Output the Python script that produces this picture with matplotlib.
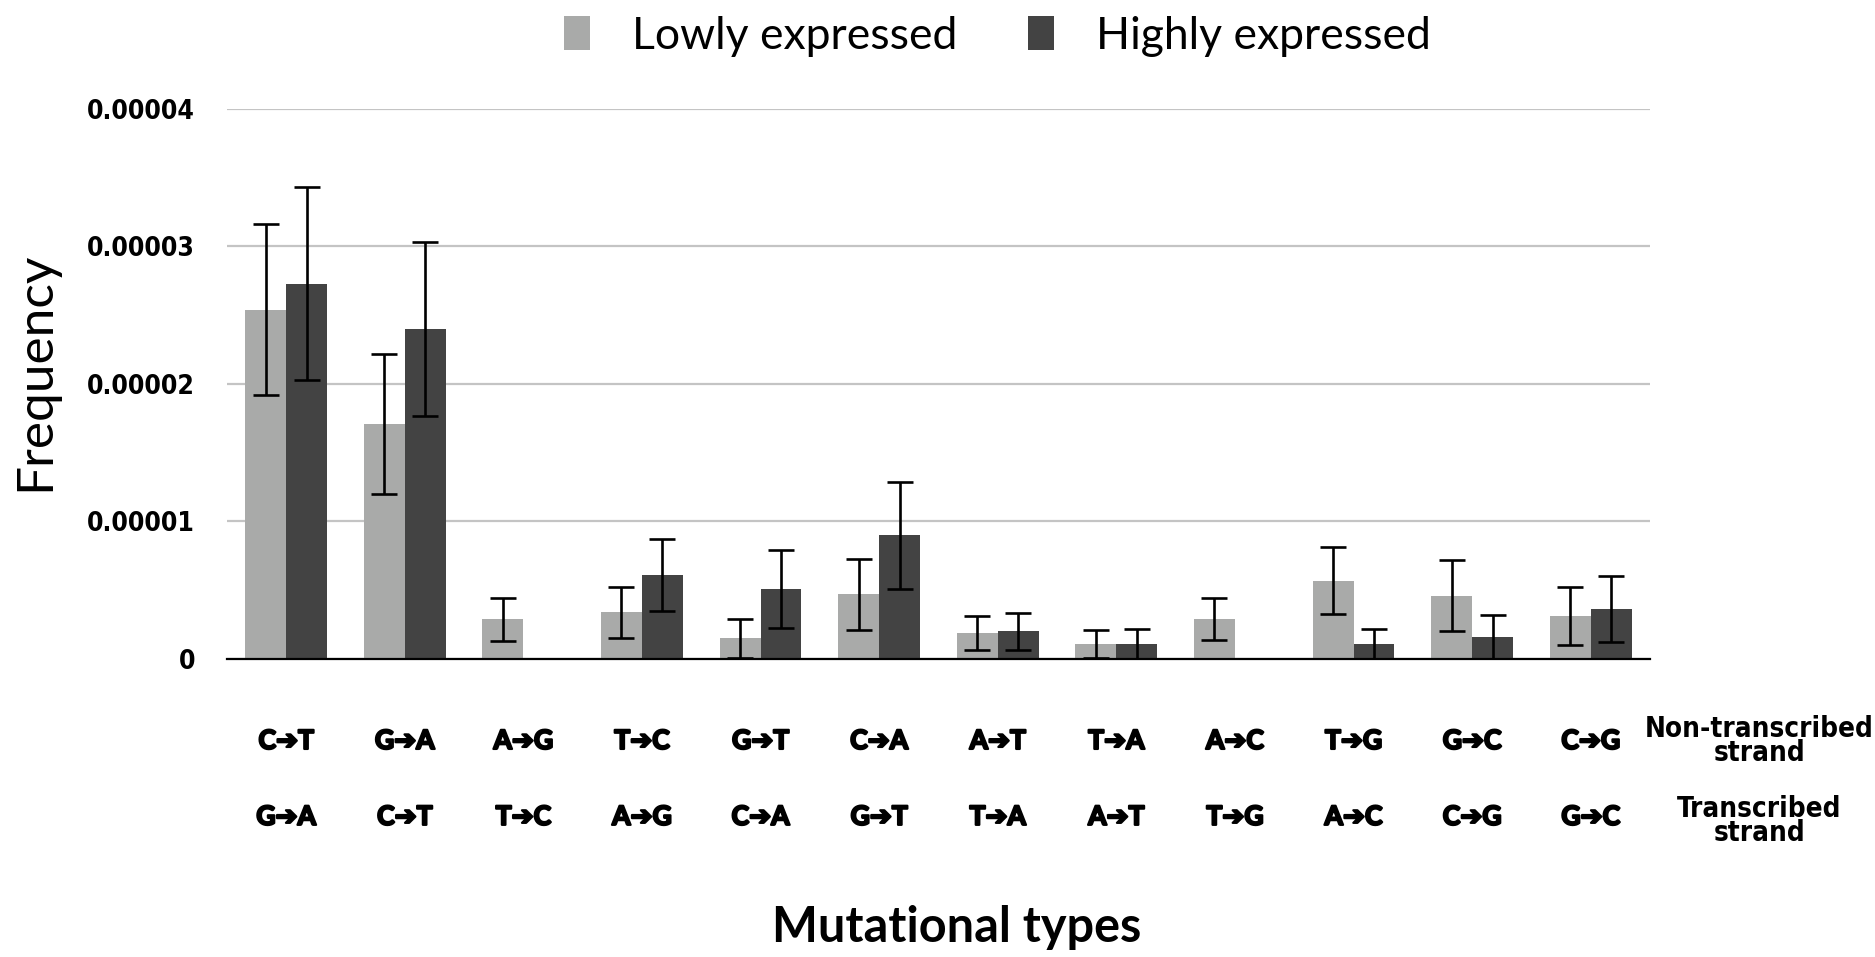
import matplotlib
matplotlib.use("Agg")
import matplotlib.pyplot as plt
import matplotlib.patheffects as pe
from matplotlib.patches import Patch
import numpy as np

# mutation types, read on each strand
non_transcribed = ["C➔T", "G➔A", "A➔G", "T➔C", "G➔T", "C➔A",
                   "A➔T", "T➔A", "A➔C", "T➔G", "G➔C", "C➔G"]
transcribed = ["G➔A", "C➔T", "T➔C", "A➔G", "C➔A", "G➔T",
               "T➔A", "A➔T", "T➔G", "A➔C", "C➔G", "G➔C"]

# frequencies (x 1e-5) and error bar half-lengths
low_freq = [2.54, 1.71, 0.29, 0.34, 0.15, 0.47, 0.19, 0.11, 0.29, 0.57, 0.46, 0.31]
low_err = [0.62, 0.51, 0.156, 0.185, 0.14, 0.26, 0.122, 0.10, 0.155, 0.243, 0.258, 0.21]
high_freq = [2.73, 2.40, 0.0, 0.61, 0.51, 0.90, 0.20, 0.11, 0.0, 0.11, 0.16, 0.365]
high_err = [0.70, 0.63, 0.0, 0.26, 0.285, 0.39, 0.137, 0.11, 0.0, 0.11, 0.157, 0.24]

y_ticks = [0, 1e-5, 2e-5, 3e-5, 4e-5]
y_ticklabels = ["0", "0.00001", "0.00002", "0.00003", "0.00004"]

LIGHT = "#a9aaa9"
DARK = "#434343"
GRID = "#c4c4c4"

NARROW = dict(family=["DejaVu Sans"], stretch="condensed", weight="bold")
LABEL_FONT = ["Lato", "DejaVu Sans"]
THICK = [pe.withStroke(linewidth=1.6, foreground="black")]

fig = plt.figure(figsize=(18.75, 9.57), dpi=100)
ax = fig.add_axes([0.121, 0.3114, 0.759, 0.5747])

x = np.arange(len(non_transcribed))
w = 0.345
low = np.array(low_freq) * 1e-5
high = np.array(high_freq) * 1e-5
lerr = np.array(low_err) * 1e-5
herr = np.array(high_err) * 1e-5

ax.bar(x - w / 2, low, width=w, color=LIGHT, zorder=2)
ax.bar(x + w / 2, high, width=w, color=DARK, zorder=2)

# error bars only where a bar exists
m = lerr > 0
ax.errorbar((x - w / 2)[m], low[m], yerr=lerr[m], fmt="none", ecolor="black",
            elinewidth=1.9, capsize=9.5, capthick=1.9, zorder=3)
m = herr > 0
ax.errorbar((x + w / 2)[m], high[m], yerr=herr[m], fmt="none", ecolor="black",
            elinewidth=1.9, capsize=9.5, capthick=1.9, zorder=3)

ax.set_xlim(-0.5, len(x) - 0.5)
ax.set_ylim(0, 4e-5)
ax.set_yticks(y_ticks)
ax.set_yticklabels(y_ticklabels, fontsize=19, **NARROW)
ax.tick_params(axis="y", length=0, pad=23)
ax.set_xticks([])
ax.grid(axis="y", color=GRID, linewidth=1.6, zorder=0)
ax.set_axisbelow(True)
ax.spines[["top", "right", "left"]].set_visible(False)
ax.spines["bottom"].set_linewidth(1.6)
ax.spines["bottom"].set_zorder(4)

# two rows of category labels under the axis
tr = ax.get_xaxis_transform()
for i in x:
    ax.text(i, -0.149, non_transcribed[i], transform=tr, ha="center", va="center",
            family=LABEL_FONT, weight="bold", fontsize=19, path_effects=THICK)
    ax.text(i, -0.287, transcribed[i], transform=tr, ha="center", va="center",
            family=LABEL_FONT, weight="bold", fontsize=19, path_effects=THICK)

ax.text(1.077, -0.149, "Non-transcribed\nstrand", transform=ax.transAxes,
        ha="center", va="center", fontsize=20, linespacing=0.8, **NARROW)
ax.text(1.077, -0.295, "Transcribed\nstrand", transform=ax.transAxes,
        ha="center", va="center", fontsize=20, linespacing=0.8, **NARROW)

fig.text(0.51, 1 - 927 / 957, "Mutational types", ha="center", va="center",
         family=LABEL_FONT, weight="bold", fontsize=35)
fig.text(0.019, 1 - 371 / 957, "Frequency", ha="center", va="center",
         rotation=90, family=LABEL_FONT, fontsize=37)

handles = [Patch(facecolor=LIGHT, label="Lowly expressed"),
           Patch(facecolor=DARK, label="Highly expressed")]
fig.legend(handles=handles, loc="center", bbox_to_anchor=(0.532, 0.962),
           ncol=2, frameon=False, prop={"family": LABEL_FONT, "size": 32},
           handlelength=0.57, handleheight=0.8, handletextpad=0.95,
           columnspacing=1.6)

fig.savefig("out.png", dpi=100)
